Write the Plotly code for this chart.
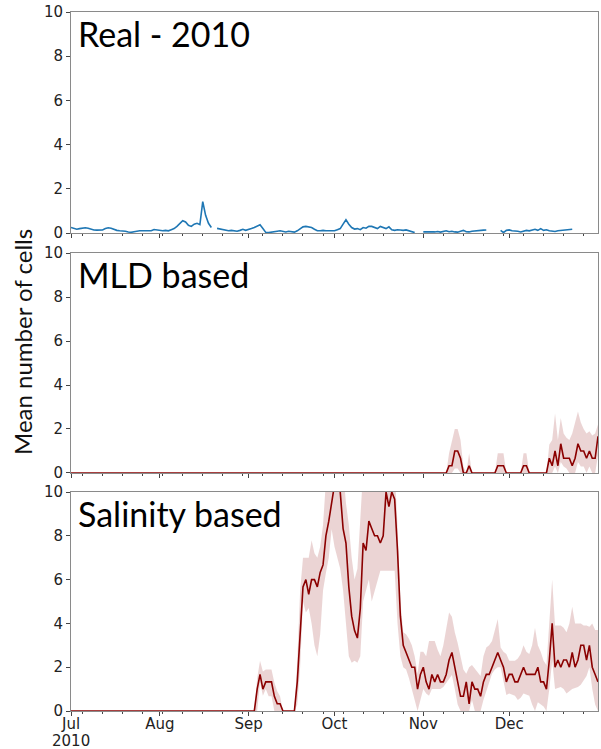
import pandas as pd
import plotly.graph_objects as go
from plotly.subplots import make_subplots

# ---- data (daily, 2010-07-01 .. 2011-01-01) ----
dates = pd.date_range("2010-07-01", "2011-01-01", freq="D")

real = [
    0.25, 0.2, 0.17, 0.2, 0.22, 0.24, 0.22, 0.17, 0.14, 0.13,
    0.13, 0.14, 0.2, 0.24, 0.22, 0.16, 0.12, 0.1, 0.1, 0.08,
    0.05, 0.03, 0.06, 0.09, 0.1, 0.1, 0.1, 0.09, 0.1, 0.16,
    0.14, 0.12, 0.1, 0.12, 0.1, 0.15, 0.2, 0.3, 0.45, 0.56,
    0.5, 0.35, 0.3, 0.4, 0.44, 0.38, 1.42, 0.8, 0.44, 0.25,
    None, 0.21, 0.18, 0.15, 0.1, 0.1, 0.12, 0.1, 0.08, 0.12,
    0.17, 0.12, 0.15, 0.2, 0.25, 0.3, 0.37, 0.2, 0.03, 0.02,
    0.03, 0.05, 0.08, 0.1, 0.08, 0.05, 0.08, 0.05, 0.04, 0.1,
    0.2, 0.28, 0.3, 0.28, 0.25, 0.17, 0.1, 0.1, 0.12, 0.1,
    0.1, 0.08, 0.1, 0.15, 0.2, 0.4, 0.6, 0.4, 0.25, 0.18,
    0.2, 0.15, 0.25, 0.22, 0.3, 0.3, 0.25, 0.2, 0.3, 0.25,
    0.2, 0.28, 0.15, 0.12, 0.15, 0.14, 0.12, 0.14, 0.1, 0.05,
    0.02, None, None, 0.05, 0.06, 0.05, 0.05, 0.05, 0.07, 0.04,
    0.08, 0.1, 0.06, 0.08, 0.05, 0.04, 0.08, 0.12, 0.06, 0.05,
    0.08, 0.1, 0.1, 0.12, 0.13, 0.14, None, None, None, None,
    0.12, 0.02, 0.12, 0.14, 0.1, 0.1, 0.08, 0.05, 0.08, 0.12,
    0.1, 0.15, 0.17, 0.12, 0.2, 0.12, 0.15, 0.1, 0.08, 0.07,
    0.1, 0.12, 0.14, 0.16, 0.17, 0.17, None, None, None, None,
    None, None, None, None, None,
]

mld_mean = [
    0, 0, 0, 0, 0, 0, 0, 0, 0, 0,
    0, 0, 0, 0, 0, 0, 0, 0, 0, 0,
    0, 0, 0, 0, 0, 0, 0, 0, 0, 0,
    0, 0, 0, 0, 0, 0, 0, 0, 0, 0,
    0, 0, 0, 0, 0, 0, 0, 0, 0, 0,
    0, 0, 0, 0, 0, 0, 0, 0, 0, 0,
    0, 0, 0, 0, 0, 0, 0, 0, 0, 0,
    0, 0, 0, 0, 0, 0, 0, 0, 0, 0,
    0, 0, 0, 0, 0, 0, 0, 0, 0, 0,
    0, 0, 0, 0, 0, 0, 0, 0, 0, 0,
    0, 0, 0, 0, 0, 0, 0, 0, 0, 0,
    0, 0, 0, 0, 0, 0, 0, 0, 0, 0,
    0, 0, 0, 0, 0, 0, 0, 0, 0, 0,
    0, 0, 0.33, 0.33, 1.0, 1.0, 0.67, 0, 0, 0.33,
    0, 0, 0, 0, 0, 0, 0, 0, 0, 0.33,
    0.33, 0.33, 0, 0, 0, 0, 0, 0, 0.33, 0.33,
    0, 0, 0, 0, 0, 0, 0, 0.67, 0.33, 1.0,
    0.33, 1.33, 0.67, 0.67, 0.67, 0.33, 0.67, 1.33, 1.0, 1.0,
    0.67, 1.0, 0.67, 0.67, 1.67,
]
mld_upper = [
    0, 0, 0, 0, 0, 0, 0, 0, 0, 0,
    0, 0, 0, 0, 0, 0, 0, 0, 0, 0,
    0, 0, 0, 0, 0, 0, 0, 0, 0, 0,
    0, 0, 0, 0, 0, 0, 0, 0, 0, 0,
    0, 0, 0, 0, 0, 0, 0, 0, 0, 0,
    0, 0, 0, 0, 0, 0, 0, 0, 0, 0,
    0, 0, 0, 0, 0, 0, 0, 0, 0, 0,
    0, 0, 0, 0, 0, 0, 0, 0, 0, 0,
    0, 0, 0, 0, 0, 0, 0, 0, 0, 0,
    0, 0, 0, 0, 0, 0, 0, 0, 0, 0,
    0, 0, 0, 0, 0, 0, 0, 0, 0, 0,
    0, 0, 0, 0, 0, 0, 0, 0, 0, 0,
    0, 0, 0, 0, 0, 0, 0, 0, 0, 0,
    0, 0, 0.9, 1.5, 2.0, 2.0, 1.5, 0.3, 0, 0.9,
    0, 0, 0, 0, 0, 0, 0, 0, 0, 0.9,
    0.9, 0.9, 0, 0, 0, 0, 0, 0, 0.9, 0.9,
    0, 0, 0, 0, 0, 0, 0, 1.3, 1.5, 2.7,
    1.5, 2.5, 1.8, 1.6, 1.5, 1.8, 2.3, 2.8, 2.3, 2.0,
    1.8, 1.9, 1.7, 1.8, 2.2,
]
mld_lower = [
    0, 0, 0, 0, 0, 0, 0, 0, 0, 0,
    0, 0, 0, 0, 0, 0, 0, 0, 0, 0,
    0, 0, 0, 0, 0, 0, 0, 0, 0, 0,
    0, 0, 0, 0, 0, 0, 0, 0, 0, 0,
    0, 0, 0, 0, 0, 0, 0, 0, 0, 0,
    0, 0, 0, 0, 0, 0, 0, 0, 0, 0,
    0, 0, 0, 0, 0, 0, 0, 0, 0, 0,
    0, 0, 0, 0, 0, 0, 0, 0, 0, 0,
    0, 0, 0, 0, 0, 0, 0, 0, 0, 0,
    0, 0, 0, 0, 0, 0, 0, 0, 0, 0,
    0, 0, 0, 0, 0, 0, 0, 0, 0, 0,
    0, 0, 0, 0, 0, 0, 0, 0, 0, 0,
    0, 0, 0, 0, 0, 0, 0, 0, 0, 0,
    0, 0, 0, 0, 0.2, 0.2, 0, 0, 0, 0,
    0, 0, 0, 0, 0, 0, 0, 0, 0, 0,
    0, 0, 0, 0, 0, 0, 0, 0, 0, 0,
    0, 0, 0, 0, 0, 0, 0, 0, 0, 0.3,
    0, 0.5, 0.3, 0.2, 0, 0, 0, 0.5, 0.3, 0.3,
    0, 0.3, 0, 0, 0.8,
]

sal_mean = [
    0, 0, 0, 0, 0, 0, 0, 0, 0, 0,
    0, 0, 0, 0, 0, 0, 0, 0, 0, 0,
    0, 0, 0, 0, 0, 0, 0, 0, 0, 0,
    0, 0, 0, 0, 0, 0, 0, 0, 0, 0,
    0, 0, 0, 0, 0, 0, 0, 0, 0, 0,
    0, 0, 0, 0, 0, 0, 0, 0, 0, 0,
    0, 0, 0, 0, 0, 1.0, 1.67, 1.0, 1.33, 1.33,
    1.33, 0.67, 0.33, 0.33, 0, 0, 0, 0, 0, 1.33,
    3.33, 5.67, 6.0, 5.33, 6.0, 6.0, 5.67, 6.33, 6.67, 8.0,
    8.67, 9.67, 10.33, 10.33, 10.0, 8.33, 7.67, 5.67, 4.33, 3.67,
    3.33, 4.67, 7.67, 7.33, 8.67, 8.33, 8.0, 8.0, 7.67, 8.0,
    10.0, 9.33, 10.0, 9.67, 7.33, 4.33, 3.0, 2.67, 2.33, 2.0,
    2.0, 1.0, 1.67, 2.0, 1.33, 1.0, 1.67, 1.33, 1.67, 1.33,
    1.33, 1.67, 2.33, 2.67, 2.0, 1.33, 0.67, 0.67, 1.33, 0.33,
    1.33, 1.0, 1.0, 0.67, 1.33, 1.67, 1.67, 2.0, 2.33, 2.67,
    2.33, 2.0, 1.33, 1.67, 1.67, 1.33, 1.33, 1.67, 2.0, 1.67,
    1.67, 1.67, 1.67, 2.0, 1.33, 1.33, 1.0, 2.33, 4.0, 2.0,
    2.33, 2.0, 2.33, 2.33, 2.0, 2.67, 2.0, 2.33, 3.0, 3.0,
    2.33, 3.0, 2.0, 1.67, 1.33,
]
sal_upper = [
    0, 0, 0, 0, 0, 0, 0, 0, 0, 0,
    0, 0, 0, 0, 0, 0, 0, 0, 0, 0,
    0, 0, 0, 0, 0, 0, 0, 0, 0, 0,
    0, 0, 0, 0, 0, 0, 0, 0, 0, 0,
    0, 0, 0, 0, 0, 0, 0, 0, 0, 0,
    0, 0, 0, 0, 0, 0, 0, 0, 0, 0,
    0, 0, 0, 0, 0, 1.5, 2.3, 1.8, 1.9, 1.9,
    1.9, 1.3, 0.9, 0.67, 0, 0, 0, 0, 0, 2.3,
    5.5, 7.0, 7.0, 7.0, 7.8, 7.2, 7.0, 7.5, 8.5, 10.5,
    11, 11, 11, 11, 11, 11, 9.5, 8.5, 7.0, 6.0,
    6.5, 9.0, 11, 11, 11, 11, 11, 11, 11, 11,
    11, 11, 11, 11, 8.5, 5.0, 3.6, 3.5, 3.3, 3.0,
    2.5, 1.7, 2.7, 2.7, 2.5, 3.2, 3.2, 3.2, 2.8, 2.5,
    3.0, 3.8, 4.5, 4.3, 3.6, 3.1, 2.5, 1.9, 1.7, 2.0,
    2.1, 1.95, 1.8, 1.6, 2.5, 2.9, 3.0, 3.2, 3.7, 4.2,
    2.9, 2.7, 2.6, 2.3, 2.3, 2.3, 2.4, 2.6, 3.0, 2.7,
    2.6, 3.0, 3.8, 3.0, 2.7, 2.3, 2.1, 4.0, 6.0, 3.9,
    3.9, 3.9, 3.8, 3.6, 4.0, 4.76, 4.0, 4.0, 4.0, 3.9,
    3.9, 3.85, 4.0, 3.7, 3.7,
]
sal_lower = [
    0, 0, 0, 0, 0, 0, 0, 0, 0, 0,
    0, 0, 0, 0, 0, 0, 0, 0, 0, 0,
    0, 0, 0, 0, 0, 0, 0, 0, 0, 0,
    0, 0, 0, 0, 0, 0, 0, 0, 0, 0,
    0, 0, 0, 0, 0, 0, 0, 0, 0, 0,
    0, 0, 0, 0, 0, 0, 0, 0, 0, 0,
    0, 0, 0, 0, 0, 0, 1.3, 0.7, 1.0, 0.67,
    0.67, 0, 0, 0, 0, 0, 0, 0, 0, 0.3,
    2.0, 5.0, 4.5, 4.7, 4.0, 3.0, 2.5, 3.5, 5.5, 6.3,
    7.0, 8.3, 7.5, 7.0, 6.5, 5.5, 4.0, 2.5, 2.2, 2.3,
    2.2, 2.5, 5.0, 5.5, 6.0, 5.0, 5.5, 6.0, 6.4, 6.4,
    6.4, 6.4, 6.4, 6.4, 4.0, 2.5, 2.0, 1.9, 1.5, 1.0,
    0.5, 0, 0.5, 1.0, 0.8, 0.7, 1.0, 1.0, 1.0, 1.0,
    1.1, 1.3, 1.5, 1.64, 1.0, 0.3, 0, 0, 0, 0,
    0.5, 0, 0, 0, 0.5, 0.9, 1.4, 1.7, 1.9, 2.0,
    2.0, 1.4, 0.73, 0.8, 0.75, 0.7, 0.5, 0.6, 0.8, 0.75,
    0.7, 0.3, 0, 0.4, 0.3, 0.2, 0, 1.0, 2.3, 1.0,
    1.05, 1.1, 1.0, 0.8, 0.9, 1.0, 1.05, 1.1, 1.2, 1.4,
    1.6, 2.0, 1.0, 0.3, 0,
]

panel_titles = ["Real - 2010", "MLD based", "Salinity based"]
month_ticks = ["2010-07-01", "2010-08-01", "2010-09-01", "2010-10-01", "2010-11-01", "2010-12-01"]
month_labels = ["Jul", "Aug", "Sep", "Oct", "Nov", "Dec"]
year_label = "2010"
y_ticks = [0, 2, 4, 6, 8, 10]

# ---- figure ----
RED = "#8b0000"
BAND = "rgba(139,0,0,0.17)"
BLUE = "#1f77b4"

fig = make_subplots(rows=3, cols=1, shared_xaxes=False)

fig.add_trace(go.Scatter(x=dates, y=real, mode="lines", line=dict(color=BLUE, width=1.6),
                         connectgaps=False, showlegend=False), row=1, col=1)

for r, (lo, up, mn) in zip([2, 3], [(mld_lower, mld_upper, mld_mean), (sal_lower, sal_upper, sal_mean)]):
    fig.add_trace(go.Scatter(x=dates, y=lo, mode="lines", line=dict(width=0, color=BAND),
                             showlegend=False, hoverinfo="skip"), row=r, col=1)
    fig.add_trace(go.Scatter(x=dates, y=up, mode="lines", line=dict(width=0, color=BAND),
                             fill="tonexty", fillcolor=BAND, showlegend=False, hoverinfo="skip"),
                  row=r, col=1)
    fig.add_trace(go.Scatter(x=dates, y=mn, mode="lines", line=dict(color=RED, width=1.6),
                             showlegend=False), row=r, col=1)

domains = [[0.6838, 1.0], [0.3405, 0.6552], [0.0, 0.3133]]
SPINE = "#8a8a8a"
TICKFONT = dict(family="DejaVu Sans", size=15, color="#222")

for i in range(3):
    r = i + 1
    fig.update_yaxes(row=r, col=1, domain=domains[i], range=[0, 10], tickvals=y_ticks,
                     automargin=False, ticklabeloverflow="allow",
                     showgrid=False, zeroline=False, showline=True, linecolor=SPINE, linewidth=1,
                     mirror=True, ticks="outside", ticklen=4, tickcolor="#444", tickfont=TICKFONT)
    fig.update_xaxes(row=r, col=1, range=["2010-07-01", "2011-01-01"], type="date",
                     automargin=False, ticklabelstandoff=-5, ticklabeloverflow="allow",
                     tickvals=month_ticks, ticktext=month_labels, showticklabels=(r == 3),
                     showgrid=False, zeroline=False, showline=True, linecolor=SPINE, linewidth=1,
                     mirror=True, ticks="outside", ticklen=4, tickcolor="#444", tickfont=TICKFONT,
                     minor=dict(ticks="outside", ticklen=2, tickcolor="#444",
                                tick0="2010-07-05", dtick=7 * 24 * 3600 * 1000, showgrid=False))

yrefs = ["y domain", "y2 domain", "y3 domain"]
xrefs = ["x domain", "x2 domain", "x3 domain"]
for i, t in enumerate(panel_titles):
    fig.add_annotation(text=t, xref=xrefs[i], yref=yrefs[i], x=0, y=1, xanchor="left", yanchor="top",
                       xshift=5, yshift=1, showarrow=False,
                       font=dict(family="Lato", size=34, color="black"))

# year under the first month label
fig.add_annotation(text=year_label, xref="x3", yref="paper", x=month_ticks[0], y=0,
                   xanchor="center", yanchor="top", yshift=-19, showarrow=False,
                   font=TICKFONT)

fig.add_annotation(text="Mean number of cells", xref="paper", yref="paper", x=-0.091, y=0.528,
                   xanchor="center", yanchor="middle", textangle=-90, showarrow=False,
                   font=dict(family="Lato", size=24, color="#111"))

fig.update_layout(width=601, height=749, margin=dict(l=71, r=3, t=12, b=38),
                  paper_bgcolor="white", plot_bgcolor="white")

# remove the default page margin so the figure sits at the window origin
fig.write_html("out.html", config={"displayModeBar": False},
               post_script="document.body.style.margin='0';")
